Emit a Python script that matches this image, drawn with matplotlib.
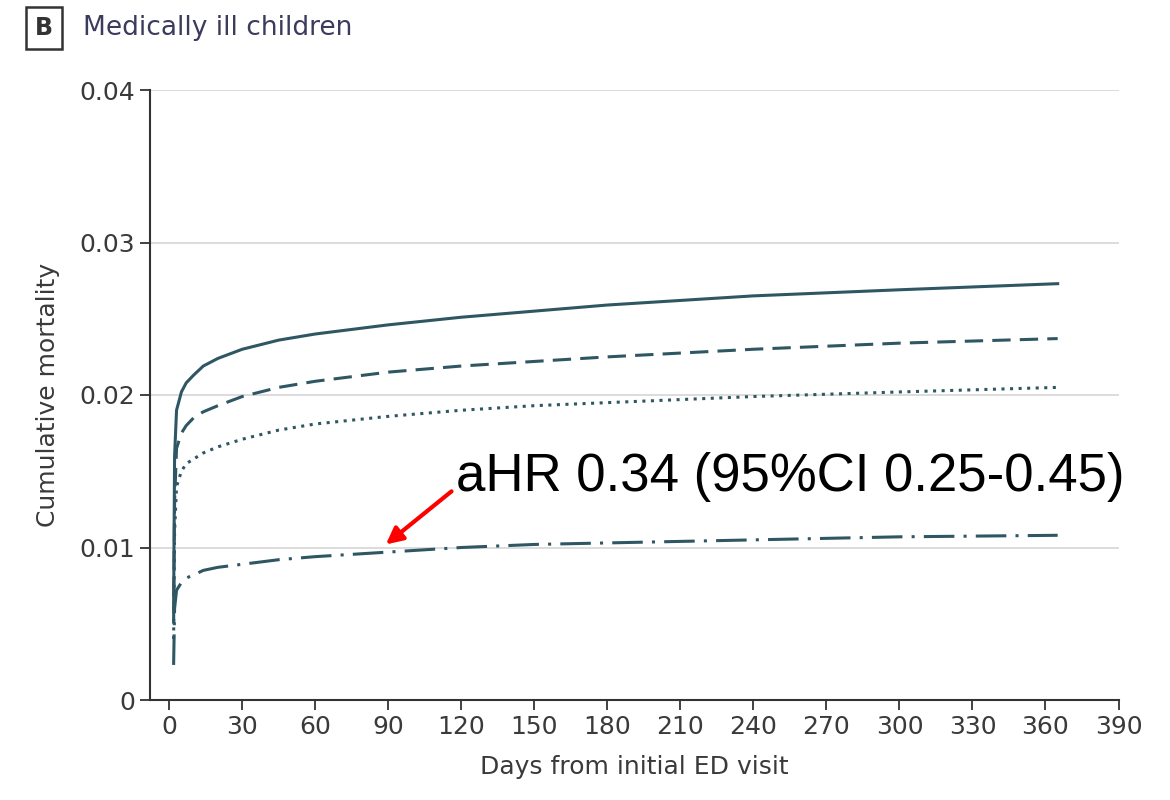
import matplotlib.pyplot as plt

# Dati
days = [1.8, 2.2, 3, 5, 7, 10, 14, 20, 30, 45, 60, 90, 120, 150, 180, 240, 300, 365]
solid = [0.006, 0.016, 0.0190, 0.0202, 0.0208, 0.0213, 0.0219, 0.0224, 0.0230, 0.0236,
         0.0240, 0.0246, 0.0251, 0.0255, 0.0259, 0.0265, 0.0269, 0.0273]
dashed = [0.005, 0.013, 0.0165, 0.0175, 0.0180, 0.0185, 0.0189, 0.0193, 0.0199, 0.0205,
          0.0209, 0.0215, 0.0219, 0.0222, 0.0225, 0.0230, 0.0234, 0.0237]
dotted = [0.004, 0.011, 0.0140, 0.0150, 0.0155, 0.0158, 0.0162, 0.0166, 0.0171, 0.0177,
          0.0181, 0.0186, 0.0190, 0.0193, 0.0195, 0.0199, 0.0202, 0.0205]
dashdot = [0.0023, 0.0060, 0.0072, 0.0077, 0.0080, 0.0082, 0.0085, 0.0087, 0.0089, 0.0092,
           0.0094, 0.0097, 0.0100, 0.0102, 0.0103, 0.0105, 0.0107, 0.0108]

xticks = list(range(0, 391, 30))
yticks = [0, 0.01, 0.02, 0.03, 0.04]
yticklabels = ['0', '0.01', '0.02', '0.03', '0.04']

col = '#2f5763'
txt = '#3a3a3a'

fig = plt.figure(figsize=(11.7, 8), dpi=100)
ax = fig.add_axes([0.128, 0.125, 0.828, 0.7625])

# griglia orizzontale
for yv in yticks[1:]:
    ax.axhline(yv, color='#d9d9d9', lw=1.3, zorder=0)

ax.plot(days, solid, color=col, lw=2.2, ls='-')
ax.plot(days, dashed, color=col, lw=2.2, ls=(0, (6, 3)))
ax.plot(days, dotted, color=col, lw=2.2, ls=(0, (1, 1.8)))
ax.plot(days, dashdot, color=col, lw=2.2, ls=(0, (10, 3, 1, 3)))

ax.set_xlim(-8, 390)
ax.set_ylim(0, 0.04)
ax.set_xticks(xticks)
ax.set_yticks(yticks)
ax.set_yticklabels(yticklabels)
ax.tick_params(direction='out', length=7, width=1.3, colors='#333333', labelsize=18)
for lab in ax.get_xticklabels() + ax.get_yticklabels():
    lab.set_color(txt)

for s in ['top', 'right']:
    ax.spines[s].set_visible(False)
for s in ['left', 'bottom']:
    ax.spines[s].set_linewidth(1.5)
    ax.spines[s].set_color('#333333')

ax.set_xlabel('Days from initial ED visit', fontsize=18, color=txt, labelpad=12)
ax.set_ylabel('Cumulative mortality', fontsize=18, color=txt, labelpad=14)

# Titolo del pannello
fig.text(0.0376, 0.965, 'B', fontsize=17, fontweight='bold', color='#333333',
         ha='center', va='center',
         bbox=dict(boxstyle='square,pad=0.4', fc='white', ec='#333333', lw=1.8))
fig.text(0.071, 0.965, 'Medically ill children', fontsize=19, color='#3b3b5b', va='center')

# Annotazione
ax.annotate('aHR 0.34 (95%CI 0.25-0.45)', xy=(89, 0.0102), xytext=(118, 0.0146),
            fontsize=38, family=['Liberation Sans', 'DejaVu Sans'], color='black',
            ha='left', va='center',
            arrowprops=dict(arrowstyle='-|>', color='red', lw=3, mutation_scale=25,
                            shrinkA=2, shrinkB=0, relpos=(0, 0.3)))

plt.savefig('out.png', dpi=100)
